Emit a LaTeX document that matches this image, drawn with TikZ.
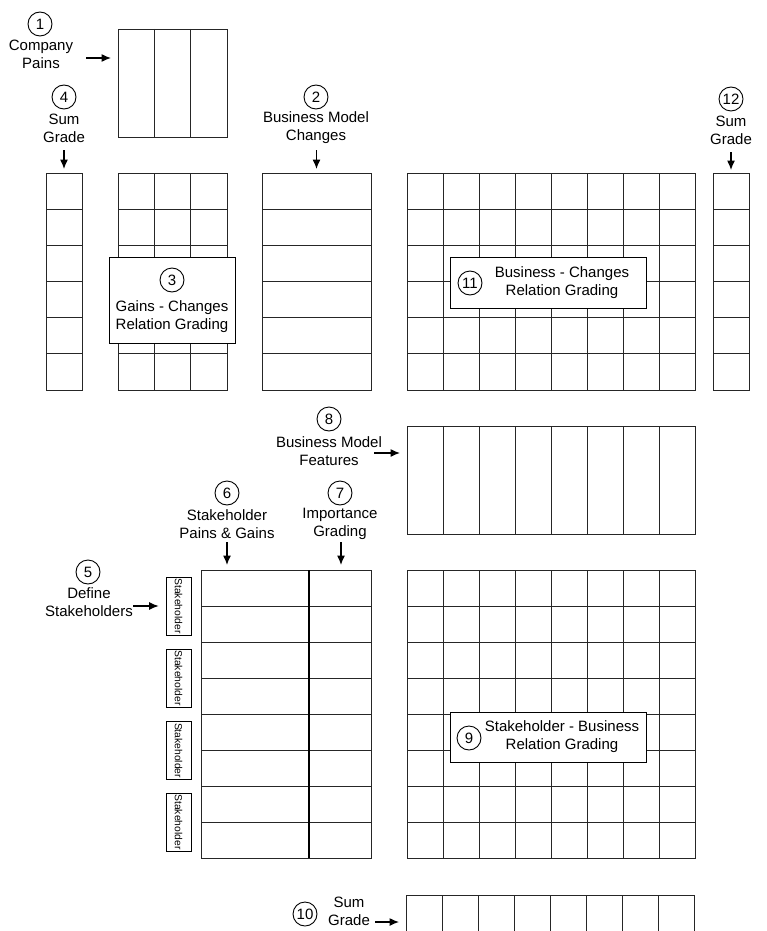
\documentclass[tikz,border=0pt]{standalone}
\usepackage{fontspec}
\setmainfont{Liberation Sans}
\usetikzlibrary{calc,arrows.meta}
\tikzset{
  gridbox/.style={draw=black!85, line width=0.9pt, inner sep=0pt, outer sep=0pt},
  gridline/.style={draw=black!85, line width=0.9pt},
  lab/.style={align=center, font=\fontsize{15}{18}\selectfont, inner sep=0pt},
  num/.style={circle, draw, line width=0.9pt, minimum size=24pt, inner sep=0pt, font=\fontsize{15}{18}\selectfont},
  labelbox/.style={draw, fill=white, line width=0.9pt, inner sep=0pt},
  arr/.style={-{Latex[length=9.5pt,width=8pt]}, line width=1.1pt},
  stk/.style={draw, rotate=-90, minimum width=58pt, minimum height=25pt, inner sep=0pt, font=\fontsize{10.3}{12}\selectfont, line width=0.8pt},
}
% name, x0, y0, cols, rows, cell width, row height
\newcommand\mygrid[7]{%
  \node[gridbox, anchor=north west, minimum width={#4*#6}, minimum height={#5*#7}] (#1) at (#2,#3) {};
  \pgfmathtruncatemacro\gnc{#4-1}%
  \pgfmathtruncatemacro\gnr{#5-1}%
  \ifnum\gnc>0
    \foreach \i in {1,...,\gnc} {\draw[gridline] ($(#1.north west)+(\i*#6,0)$) -- ($(#1.south west)+(\i*#6,0)$);}
  \fi
  \ifnum\gnr>0
    \foreach \j in {1,...,\gnr} {\draw[gridline] ($(#1.north west)+(0,\j*#7)$) -- ($(#1.north east)+(0,\j*#7)$);}
  \fi
}
\begin{document}
\begin{tikzpicture}[x=1pt,y=-1pt]
\useasboundingbox (0,0) rectangle (766,931);

% grids
\mygrid{pains}{118}{29}{3}{1}{36.33}{108}
\mygrid{sumleft}{46}{173}{1}{6}{36}{36.17}
\mygrid{gains}{118}{173}{3}{6}{36.33}{36.17}
\mygrid{bmc}{262}{173}{1}{6}{109}{36.17}
\mygrid{bcg}{407}{173}{8}{6}{36}{36.17}
\mygrid{sumright}{713}{173}{1}{6}{36}{36.17}
\mygrid{feat}{407}{426}{8}{1}{36}{108}
\mygrid{spg}{201}{570}{1}{8}{108}{36}
\mygrid{imp}{309}{570}{1}{8}{62}{36}
\draw[line width=1.5pt] (imp.north west) -- (imp.south west);
\mygrid{sbg}{407}{570}{8}{8}{36.1}{36}
\mygrid{sumbottom}{406}{895}{8}{1}{36.1}{36}

% stakeholder boxes
\node[stk] (s1) at (178.5,606) {Stakeholder};
\node[stk] (s2) at (178.5,678) {Stakeholder};
\node[stk] (s3) at (178.5,750.5) {Stakeholder};
\node[stk] (s4) at (178.5,822) {Stakeholder};

% relation boxes
\node[labelbox, minimum width=126pt, minimum height=86pt] (box3) at (172,300) {};
\node[num] (n3) at (172,280) {3};
\node[lab] (t3) at (172,317) {Gains - Changes\\Relation Grading};

\node[labelbox, minimum width=196pt, minimum height=51pt] (box11) at (548,282.5) {};
\node[num] (n11) at (470,283) {11};
\node[lab] (t11) at (562,282.5) {Business - Changes\\Relation Grading};

\node[labelbox, minimum width=196pt, minimum height=50pt] (box9) at (548,737) {};
\node[num] (n9) at (469,738) {9};
\node[lab] (t9) at (562,736.5) {Stakeholder - Business\\Relation Grading};

% labels
\node[num] (n1) at (40,24) {1};
\node[lab] (l1) at (41,54.5) {Company\\Pains};
\coordinate (c1) at (86,58);
\draw[arr, shorten >=7pt] (c1) -- (c1 -| pains.west);

\node[num] (n4) at (64,97) {4};
\node[lab] (l4) at (64,128) {Sum\\Grade};
\coordinate (c4) at (64,150);
\draw[arr, shorten >=4pt] (c4) -- (sumleft.north);

\node[num] (n2) at (316,97) {2};
\node[lab] (l2) at (316,128) {Business Model\\Changes};
\coordinate (c2) at (316.5,150);
\draw[arr, shorten >=4pt] (c2) -- (bmc.north);

\node[num] (n12) at (731,99) {12};
\node[lab] (l12) at (731,130) {Sum\\Grade};
\coordinate (c12) at (731,152);
\draw[arr, shorten >=3pt] (c12) -- (sumright.north);

\node[num] (n8) at (329,419) {8};
\node[lab] (l8) at (329,451) {Business Model\\Features};
\coordinate (c8) at (374,453);
\draw[arr, shorten >=7pt] (c8) -- (c8 -| feat.west);

\node[num] (n6) at (227,493) {6};
\node[lab] (l6) at (227,524) {Stakeholder\\Pains \& Gains};
\coordinate (c6) at (227,542);
\draw[arr, shorten >=5pt] (c6) -- (c6 |- spg.north);

\node[num] (n7) at (340,493) {7};
\node[lab] (l7) at (340,524) {Importance\\Grading};
\coordinate (c7) at (341,542);
\draw[arr, shorten >=5pt] (c7) -- (c7 |- imp.north);

\node[num] (n5) at (88,572) {5};
\node[lab] (l5) at (89,602.5) {Define\\Stakeholders};
\coordinate (c5) at (133,606);
\draw[arr, shorten >=7pt] (c5) -- (s1.south);

\node[num] (n10) at (305,914) {10};
\node[lab] (l10) at (349,911.5) {Sum\\Grade};
\coordinate (c10) at (375,922);
\draw[arr, shorten >=7pt] (c10) -- (c10 -| sumbottom.west);
\end{tikzpicture}
\end{document}
